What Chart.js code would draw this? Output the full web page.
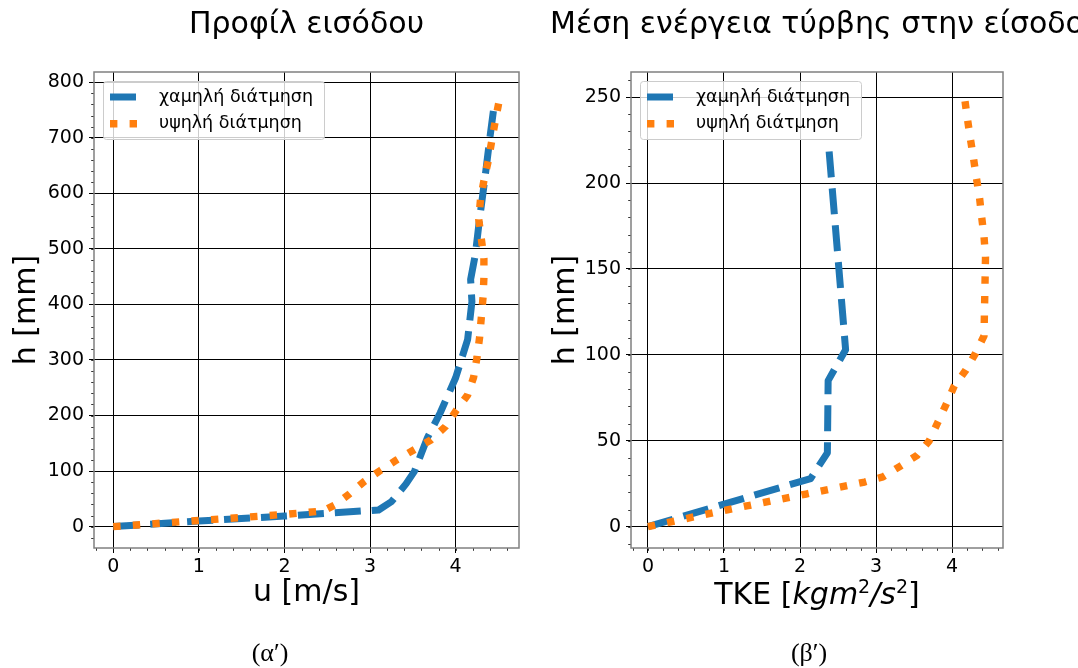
<!DOCTYPE html>
<html>
<head>
<meta charset="utf-8">
<script src="https://cdn.jsdelivr.net/npm/chart.js@4.4.1/dist/chart.umd.min.js"></script>
<style>
  html, body { margin: 0; padding: 0; background: #fff; overflow: hidden; width: 1078px; height: 668px; }
  canvas { position: absolute; top: 0; }
  #profile { left: 0; }
  #tke { left: 540px; }
</style>
</head>
<body>
<canvas id="profile" width="540" height="668"></canvas>
<canvas id="tke" width="538" height="668"></canvas>
<script>
// series names
const seriesLabels = ['χαμηλή διάτμηση', 'υψηλή διάτμηση'];

// inlet velocity profile: u [m/s] against height h [mm]
const velLowU = [0, 1.0, 2.0, 3.1, 3.25, 3.42, 3.52, 3.67, 3.82, 4.0, 4.14, 4.19, 4.175, 4.23, 4.28, 4.34, 4.40, 4.455];
const velLowH = [0, 10, 19, 30, 45, 77, 100, 160, 205, 268, 337, 405, 445, 490, 555, 625, 700, 765];
const velHighU = [0, 1.0, 2.0, 2.45, 2.6, 2.76, 2.93, 3.12, 3.31, 3.51, 3.71, 3.88, 4.01, 4.14, 4.21, 4.25, 4.28, 4.30, 4.32, 4.33, 4.33, 4.30, 4.27, 4.29, 4.33, 4.38, 4.42, 4.46, 4.51];
const velHighH = [0, 11, 22, 28, 40, 59, 81, 101, 120, 138, 156, 180, 210, 237, 269, 305, 341, 377, 413, 448, 483, 518, 553, 589, 623, 658, 693, 728, 768];

// mean turbulent kinetic energy at the inlet against height h [mm]
const tkeLowK = [0, 2.14, 2.36, 2.37, 2.6, 2.38];
const tkeLowH = [0, 28, 43, 85, 103, 220];
const tkeHighK = [0, 1.06, 2.08, 2.85, 3.09, 3.31, 3.54, 3.70, 3.81, 3.92, 4.03, 4.18, 4.31, 4.42, 4.43, 4.44, 4.42, 4.39, 4.36, 4.32, 4.28, 4.24, 4.20, 4.16];
const tkeHighH = [0, 10, 19, 26, 29, 35, 41.5, 50, 60.5, 71, 82, 91, 101, 111, 134, 157, 169, 180, 192, 203, 215, 226, 238, 251];

// tick values
const uTicks = [0, 1, 2, 3, 4];
const hTicksVel = [0, 100, 200, 300, 400, 500, 600, 700, 800];
const kTicks = [0, 1, 2, 3, 4];
const hTicksTke = [0, 50, 100, 150, 200, 250];

const FONT = '"DejaVu Sans", sans-serif';
const BLUE = '#1f77b4';
const ORANGE = '#ff7f0e';

const zip = (xs, ys) => xs.map((v, i) => ({ x: v, y: ys[i] }));

// frame, minor ticks, legend box, panel title, caption and rich axis label
const panelDecor = {
  id: 'panelDecor',
  afterDraw(chart, args, opts) {
    const { ctx, chartArea: a, scales: { x, y } } = chart;
    ctx.save();

    // minor ticks (outside)
    ctx.strokeStyle = '#000';
    ctx.lineWidth = 0.8;
    ctx.beginPath();
    for (let i = Math.ceil(x.min / opts.minorX); i * opts.minorX <= x.max; i++) {
      const px = Math.round(x.getPixelForValue(i * opts.minorX)) + 0.5;
      ctx.moveTo(px, a.bottom);
      ctx.lineTo(px, a.bottom + 2.8);
    }
    for (let i = Math.ceil(y.min / opts.minorY); i * opts.minorY <= y.max; i++) {
      const py = Math.round(y.getPixelForValue(i * opts.minorY)) + 0.5;
      ctx.moveTo(a.left, py);
      ctx.lineTo(a.left - 2.8, py);
    }
    ctx.stroke();

    // axes frame
    ctx.strokeStyle = '#808080';
    ctx.lineWidth = 1.5;
    ctx.strokeRect(a.left, a.top, a.right - a.left, a.bottom - a.top);

    // legend
    const bx = a.left + 9, by = a.top + 9, bw = 221, bh = 58;
    ctx.fillStyle = 'rgba(255,255,255,0.8)';
    ctx.strokeStyle = '#cccccc';
    ctx.lineWidth = 1;
    ctx.beginPath();
    ctx.roundRect(bx + 0.5, by + 0.5, bw, bh, 3);
    ctx.fill();
    ctx.stroke();
    ctx.font = `17.5px ${FONT}`;
    ctx.textAlign = 'left';
    ctx.textBaseline = 'middle';
    chart.data.datasets.forEach((ds, i) => {
      const ry = by + 16 + i * 26.7;
      ctx.save();
      ctx.strokeStyle = ds.borderColor;
      ctx.lineWidth = ds.borderWidth;
      ctx.setLineDash(ds.borderDash);
      ctx.lineCap = 'butt';
      ctx.beginPath();
      ctx.moveTo(bx + 7, ry);
      ctx.lineTo(bx + 35, ry);
      ctx.stroke();
      ctx.restore();
      ctx.fillStyle = '#000';
      ctx.fillText(ds.label, bx + 56, ry);
    });

    // panel title
    const cx = (a.left + a.right) / 2;
    ctx.fillStyle = '#000';
    ctx.textAlign = 'center';
    ctx.font = `30px ${FONT}`;
    ctx.fillText(opts.title, cx, 25);

    // caption under the panel
    ctx.font = '26px "Liberation Serif", serif';
    ctx.fillText(opts.caption, chart.width / 2, 654);

    // x label with italic / superscript parts
    if (opts.richLabel) {
      const parts = opts.richLabel.map(p => {
        const f = p.sup ? `19px ${FONT}` : `${p.it ? 'oblique ' : ''}30px ${FONT}`;
        ctx.font = f;
        return { ...p, f, w: ctx.measureText(p.t).width };
      });
      const total = parts.reduce((s, p) => s + p.w, 0);
      let px = cx - total / 2;
      ctx.textAlign = 'left';
      ctx.textBaseline = 'alphabetic';
      parts.forEach(p => {
        ctx.font = p.f;
        ctx.fillText(p.t, px, p.sup ? 593 : 604);
        px += p.w;
      });
    }
    ctx.restore();
  }
};

function makePanel(id, cfg) {
  const tickFont = { family: FONT, size: 19 };
  const labelFont = { family: FONT, size: 30 };
  return new Chart(document.getElementById(id), {
    type: 'line',
    data: {
      datasets: [
        { label: seriesLabels[0], data: zip(cfg.lowX, cfg.lowY), borderColor: BLUE, borderWidth: 7,
          borderDash: [26, 11], order: 1 },
        { label: seriesLabels[1], data: zip(cfg.highX, cfg.highY), borderColor: ORANGE, borderWidth: 7.4,
          borderDash: [7.4, 12.2], order: 0 }
      ]
    },
    options: {
      responsive: false,
      animation: false,
      events: [],
      layout: { padding: { top: 72, right: cfg.padRight, bottom: 0, left: 0 } },
      elements: {
        point: { radius: 0 },
        line: { tension: 0, borderJoinStyle: 'round', fill: false }
      },
      plugins: {
        legend: { display: false },
        tooltip: { enabled: false },
        panelDecor: { title: cfg.title, caption: cfg.caption, minorX: cfg.minorX, minorY: cfg.minorY,
          richLabel: cfg.richLabel }
      },
      scales: {
        x: {
          type: 'linear', min: cfg.xMin, max: cfg.xMax,
          afterBuildTicks: s => { s.ticks = cfg.xTicks.map(v => ({ value: v })); },
          afterFit: s => { s.height = 120; },
          grid: { color: '#000', lineWidth: 1, tickLength: 5, tickColor: '#000', tickWidth: 1 },
          border: { display: false },
          ticks: { color: '#000', font: tickFont, padding: 3, autoSkip: false, maxRotation: 0 },
          title: { display: !!cfg.xTitle, text: cfg.xTitle, color: '#000', font: labelFont,
            padding: { top: 0, bottom: 57 } }
        },
        y: {
          type: 'linear', min: cfg.yMin, max: cfg.yMax,
          afterBuildTicks: s => { s.ticks = cfg.yTicks.map(v => ({ value: v })); },
          afterFit: s => { s.width = cfg.yWidth; },
          grid: { color: '#000', lineWidth: 1, tickLength: 5, tickColor: '#000', tickWidth: 1 },
          border: { display: false },
          ticks: { color: '#000', font: tickFont, padding: 5, autoSkip: false },
          title: { display: true, text: 'h [mm]', color: '#000', font: labelFont,
            padding: { top: cfg.yTitlePad, bottom: 0 } }
        }
      }
    },
    plugins: [panelDecor]
  });
}

makePanel('profile', {
  title: 'Προφίλ εισόδου', caption: '(α′)',
  lowX: velLowU, lowY: velLowH, highX: velHighU, highY: velHighH,
  xMin: -0.225, xMax: 4.74, yMin: -38.5, yMax: 818.5,
  xTicks: uTicks, yTicks: hTicksVel, minorX: 0.2, minorY: 20,
  xTitle: 'u [m/s]', yWidth: 94, yTitlePad: 9, padRight: 21
});

makePanel('tke', {
  title: 'Μέση ενέργεια τύρβης στην είσοδο', caption: '(β′)',
  lowX: tkeLowK, lowY: tkeLowH, highX: tkeHighK, highY: tkeHighH,
  xMin: -0.223, xMax: 4.67, yMin: -12.4, yMax: 264.6,
  xTicks: kTicks, yTicks: hTicksTke, minorX: 0.2, minorY: 10,
  xTitle: '', yWidth: 91, yTitlePad: 8, padRight: 75,
  richLabel: [
    { t: 'TKE [' }, { t: 'kgm', it: true }, { t: '2', sup: true },
    { t: '/s', it: true }, { t: '2', sup: true }, { t: ']' }
  ]
});
</script>
</body>
</html>
